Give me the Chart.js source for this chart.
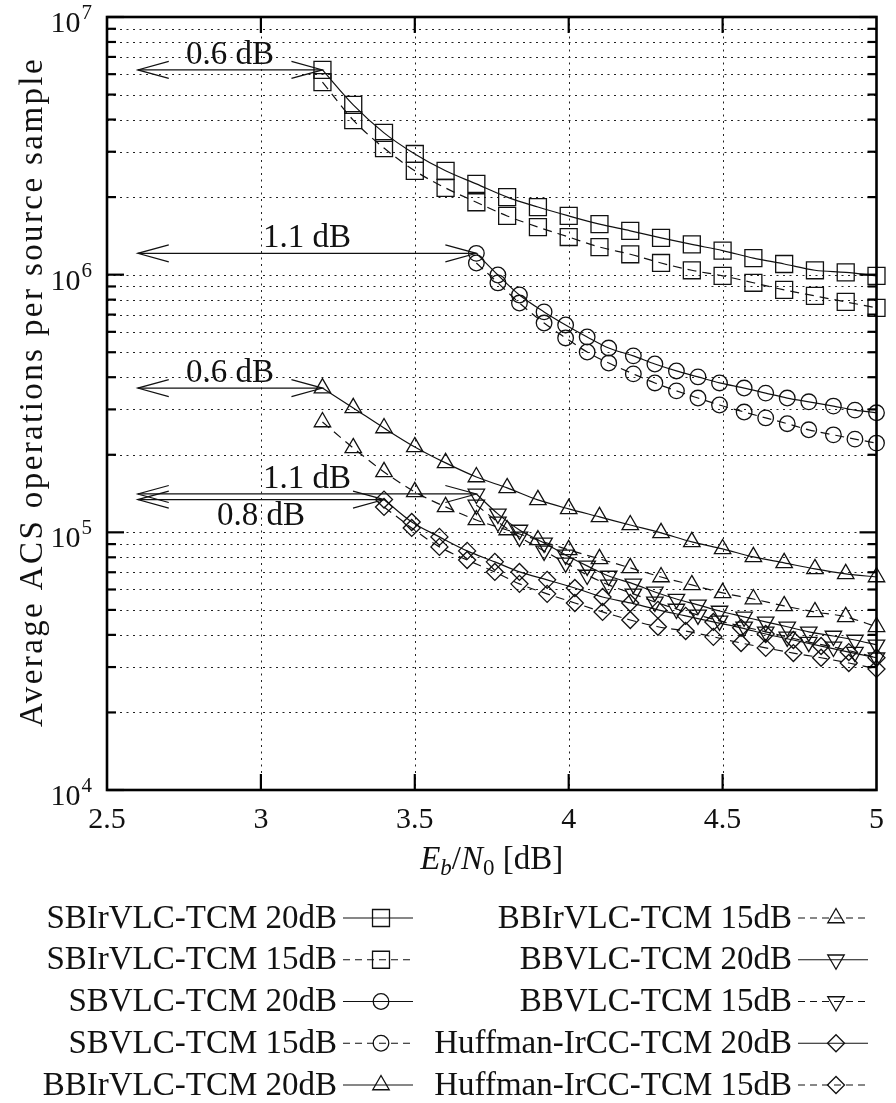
<!DOCTYPE html>
<html lang="en">
<head>
    <meta charset="UTF-8">
    <title>Average ACS operations per source sample</title>
    <script src="https://cdn.jsdelivr.net/npm/chart.js"></script>
    <style>
        body {
            margin: 0;
            background: #fff;
        }
        #wrap {
            width: 896px;
            height: 1103px;
        }
    </style>
</head>
<body>
    <div id="wrap"><canvas id="acsChart" width="896" height="1103"></canvas></div>

    <script>
        // Eb/N0 sample points [dB]
        const ebnoTenth = [3.2, 3.3, 3.4, 3.5, 3.6, 3.7, 3.8, 3.9, 4.0, 4.1, 4.2, 4.3, 4.4, 4.5, 4.6, 4.7, 4.8, 4.9, 5.0];
        const ebnoVlc = [3.70, 3.77, 3.84, 3.92, 3.99, 4.06, 4.13, 4.21, 4.28, 4.35, 4.42, 4.49, 4.57, 4.64, 4.71, 4.78, 4.86, 4.93, 5.00];
        const ebnoHuff = [3.40, 3.49, 3.58, 3.67, 3.76, 3.84, 3.93, 4.02, 4.11, 4.20, 4.29, 4.38, 4.47, 4.56, 4.64, 4.73, 4.82, 4.91, 5.00];

        // average ACS operations per source sample
        const sbIrvlc20 = [6.23e6, 4.56e6, 3.55e6, 2.94e6, 2.53e6, 2.25e6, 2.00e6, 1.83e6, 1.69e6, 1.57e6, 1.48e6, 1.39e6, 1.31e6, 1.24e6, 1.16e6, 1.10e6, 1.04e6, 1.02e6, 0.99e6];
        const sbIrvlc15 = [5.59e6, 3.98e6, 3.10e6, 2.53e6, 2.17e6, 1.91e6, 1.69e6, 1.53e6, 1.40e6, 1.28e6, 1.20e6, 1.11e6, 1.04e6, 0.99e6, 0.93e6, 0.873e6, 0.827e6, 0.784e6, 0.743e6];
        const sbVlc20 = [1.21e6, 0.997e6, 0.834e6, 0.717e6, 0.638e6, 0.573e6, 0.519e6, 0.484e6, 0.450e6, 0.423e6, 0.401e6, 0.380e6, 0.363e6, 0.347e6, 0.332e6, 0.321e6, 0.309e6, 0.298e6, 0.291e6];
        const sbVlc15 = [1.11e6, 0.929e6, 0.776e6, 0.649e6, 0.568e6, 0.501e6, 0.454e6, 0.412e6, 0.380e6, 0.354e6, 0.332e6, 0.312e6, 0.293e6, 0.278e6, 0.264e6, 0.250e6, 0.239e6, 0.230e6, 0.222e6];
        const bbIrvlc20 = [3.63e5, 3.04e5, 2.54e5, 2.145e5, 1.86e5, 1.64e5, 1.487e5, 1.336e5, 1.233e5, 1.148e5, 1.068e5, 0.995e5, 0.918e5, 0.862e5, 0.803e5, 0.761e5, 0.721e5, 0.690e5, 0.671e5];
        const bbIrvlc15 = [2.68e5, 2.126e5, 1.716e5, 1.435e5, 1.255e5, 1.117e5, 1.021e5, 0.934e5, 0.855e5, 0.789e5, 0.728e5, 0.671e5, 0.625e5, 0.582e5, 0.551e5, 0.518e5, 0.491e5, 0.470e5, 0.430e5];
        const bbVlc20 = [1.409e5, 1.179e5, 1.021e5, 0.910e5, 0.817e5, 0.741e5, 0.677e5, 0.631e5, 0.587e5, 0.551e5, 0.523e5, 0.495e5, 0.470e5, 0.449e5, 0.430e5, 0.411e5, 0.396e5, 0.382e5, 0.366e5];
        const bbVlc15 = [1.277e5, 1.097e5, 0.960e5, 0.847e5, 0.761e5, 0.683e5, 0.625e5, 0.577e5, 0.537e5, 0.504e5, 0.478e5, 0.453e5, 0.430e5, 0.411e5, 0.393e5, 0.375e5, 0.359e5, 0.343e5, 0.326e5];
        const huff20 = [1.34e5, 1.097e5, 0.960e5, 0.847e5, 0.768e5, 0.702e5, 0.654e5, 0.608e5, 0.561e5, 0.532e5, 0.500e5, 0.474e5, 0.449e5, 0.426e5, 0.403e5, 0.382e5, 0.362e5, 0.343e5, 0.326e5];
        const huff15 = [1.255e5, 1.040e5, 0.878e5, 0.781e5, 0.702e5, 0.631e5, 0.577e5, 0.532e5, 0.491e5, 0.457e5, 0.430e5, 0.414e5, 0.393e5, 0.372e5, 0.356e5, 0.340e5, 0.326e5, 0.311e5, 0.295e5];

        const seriesLabels = [
            'SBIrVLC-TCM 20dB', 'SBIrVLC-TCM 15dB',
            'SBVLC-TCM 20dB', 'SBVLC-TCM 15dB',
            'BBIrVLC-TCM 20dB', 'BBIrVLC-TCM 15dB',
            'BBVLC-TCM 20dB', 'BBVLC-TCM 15dB',
            'Huffman-IrCC-TCM 20dB', 'Huffman-IrCC-TCM 15dB'
        ];
        const seriesX = [ebnoTenth, ebnoTenth, ebnoVlc, ebnoVlc, ebnoTenth, ebnoTenth, ebnoVlc, ebnoVlc, ebnoHuff, ebnoHuff];
        const seriesY = [sbIrvlc20, sbIrvlc15, sbVlc20, sbVlc15, bbIrvlc20, bbIrvlc15, bbVlc20, bbVlc15, huff20, huff15];

        // axis ticks
        const xTicks = [2.5, 3, 3.5, 4, 4.5, 5];
        const xGrid = [3, 3.5, 4, 4.5];
        const yDecades = [1e4, 1e5, 1e6, 1e7];
        const yMantissas = [2, 3, 4, 5, 6, 7, 8, 9];

        // SNR gap arrows: label, series whose first point is the arrow target
        const gapLabels = ['0.6 dB', '1.1 dB', '0.6 dB', '1.1 dB', '0.8 dB'];
        const gapSeries = [0, 2, 4, 6, 8];
        const gapLabelX = [2.9, 3.15, 2.9, 3.15, 3.0];
        const gapFromX = 2.6;

        const FONT = '"Liberation Serif", "Times New Roman", serif';
        const INK = '#111';

        // one marker shape per scheme, solid = 20dB, dashed = 15dB
        const markerShapes = [
            { pointStyle: 'rect', radius: 12, rotation: 0 },
            { pointStyle: 'circle', radius: 7.8, rotation: 0 },
            { pointStyle: 'triangle', radius: 9.5, rotation: 0 },
            { pointStyle: 'triangle', radius: 9.5, rotation: 180 },
            { pointStyle: 'rectRot', radius: 8.5, rotation: 0 }
        ];
        const dashPattern = [9, 6];

        const datasets = seriesLabels.map(function(label, i) {
            const m = markerShapes[i >> 1];
            return {
                label: label,
                data: seriesX[i].map(function(x, k) { return { x: x, y: seriesY[i][k] }; }),
                borderColor: INK,
                borderWidth: 1.2,
                borderDash: i % 2 ? dashPattern : [],
                pointStyle: m.pointStyle,
                pointRadius: m.radius,
                pointHoverRadius: m.radius,
                pointRotation: m.rotation,
                pointBorderColor: INK,
                pointBorderWidth: 1.3,
                pointBackgroundColor: 'rgba(0,0,0,0)',
                cubicInterpolationMode: 'monotone',
                fill: false,
                clip: false
            };
        });

        function seg(ctx, x1, y1, x2, y2) {
            ctx.beginPath();
            ctx.moveTo(x1, y1);
            ctx.lineTo(x2, y2);
            ctx.stroke();
        }

        function doubleArrow(ctx, x1, x2, y) {
            const hl = 31, hw = 8.5;
            seg(ctx, x1, y, x2, y);
            ctx.beginPath();
            ctx.moveTo(x1 + hl, y - hw); ctx.lineTo(x1, y); ctx.lineTo(x1 + hl, y + hw);
            ctx.moveTo(x2 - hl, y - hw); ctx.lineTo(x2, y); ctx.lineTo(x2 - hl, y + hw);
            ctx.stroke();
        }

        const plotDecor = {
            id: 'plotDecor',
            beforeDatasetsDraw(chart) {
                const { ctx, chartArea: a, scales: { x, y } } = chart;
                ctx.save();
                ctx.strokeStyle = '#222';
                ctx.lineWidth = 1;
                ctx.setLineDash([2, 4.5]);
                xGrid.forEach(function(v) {
                    const px = Math.round(x.getPixelForValue(v)) + 0.5;
                    seg(ctx, px, a.top, px, a.bottom);
                });
                yDecades.forEach(function(d, i) {
                    const vals = (i > 0 && i < yDecades.length - 1) ? [d] : [];
                    if (i < yDecades.length - 1) yMantissas.forEach(function(m) { vals.push(d * m); });
                    vals.forEach(function(v) {
                        const py = Math.round(y.getPixelForValue(v)) + 0.5;
                        seg(ctx, a.left, py, a.right, py);
                    });
                });
                ctx.restore();
            },
            afterDatasetsDraw(chart) {
                const { ctx, chartArea: a, scales: { x, y } } = chart;
                ctx.save();
                ctx.strokeStyle = '#000';

                // inward ticks on all four sides
                ctx.lineWidth = 2.2;
                xGrid.forEach(function(v) {
                    const px = x.getPixelForValue(v);
                    seg(ctx, px, a.bottom, px, a.bottom - 16);
                    seg(ctx, px, a.top, px, a.top + 16);
                });
                yDecades.forEach(function(d, i) {
                    const py = y.getPixelForValue(d);
                    seg(ctx, a.left, py, a.left + 17, py);
                    seg(ctx, a.right, py, a.right - 17, py);
                    if (i === yDecades.length - 1) return;
                    yMantissas.forEach(function(m) {
                        const pm = y.getPixelForValue(d * m);
                        seg(ctx, a.left, pm, a.left + 9, pm);
                        seg(ctx, a.right, pm, a.right - 9, pm);
                    });
                });

                // frame
                ctx.lineWidth = 2.6;
                ctx.strokeRect(a.left, a.top, a.right - a.left, a.bottom - a.top);

                // gap arrows
                ctx.strokeStyle = INK;
                ctx.lineWidth = 1.2;
                ctx.fillStyle = INK;
                ctx.font = '33px ' + FONT;
                ctx.textAlign = 'center';
                ctx.textBaseline = 'middle';
                gapLabels.forEach(function(text, i) {
                    const s = gapSeries[i];
                    const py = y.getPixelForValue(seriesY[s][0]);
                    doubleArrow(ctx, x.getPixelForValue(gapFromX), x.getPixelForValue(seriesX[s][0]), py);
                    const dy = i === gapLabels.length - 1 ? 17 : -15;
                    ctx.fillText(text, x.getPixelForValue(gapLabelX[i]), py + dy);
                });
                ctx.restore();
            },
            afterDraw(chart) {
                const { ctx, chartArea: a, scales: { y } } = chart;
                ctx.save();
                ctx.fillStyle = INK;

                // y tick labels 10^k
                ctx.textBaseline = 'alphabetic';
                ctx.textAlign = 'left';
                yDecades.forEach(function(d) {
                    const py = y.getPixelForValue(d);
                    const exp = String(Math.round(Math.log10(d)));
                    ctx.font = '21px ' + FONT;
                    const we = ctx.measureText(exp).width;
                    ctx.font = '30px ' + FONT;
                    const wb = ctx.measureText('10').width;
                    const right = 92;
                    ctx.fillText('10', right - we - wb - 1, py + 15);
                    ctx.font = '21px ' + FONT;
                    ctx.fillText(exp, right - we, py + 2);
                });

                // y axis title
                ctx.save();
                ctx.translate(33, 392);
                ctx.rotate(-Math.PI / 2);
                ctx.font = '33px ' + FONT;
                ctx.letterSpacing = '2.4px';
                ctx.textAlign = 'center';
                ctx.textBaseline = 'middle';
                ctx.fillText('Average ACS operations per source sample', 0, 0);
                ctx.restore();

                // x axis title: E_b/N_0 [dB]
                const parts = [
                    { t: 'E', f: 'italic 33px ' + FONT, dy: 0 },
                    { t: 'b', f: 'italic 23px ' + FONT, dy: 6 },
                    { t: '/', f: '33px ' + FONT, dy: 0 },
                    { t: 'N', f: 'italic 33px ' + FONT, dy: 0 },
                    { t: '0', f: '23px ' + FONT, dy: 6 },
                    { t: ' [dB]', f: '33px ' + FONT, dy: 0 }
                ];
                let total = 0;
                parts.forEach(function(p) { ctx.font = p.f; p.w = ctx.measureText(p.t).width; total += p.w; });
                let cx = (a.left + a.right) / 2 - total / 2;
                ctx.textAlign = 'left';
                parts.forEach(function(p) {
                    ctx.font = p.f;
                    ctx.fillText(p.t, cx, 869 + p.dy);
                    cx += p.w;
                });

                // legend, two columns, text right-aligned before the sample
                const colText = [337, 792];
                const colLine = [[343, 413], [798, 868]];
                seriesLabels.forEach(function(label, i) {
                    const col = i < 5 ? 0 : 1;
                    const row = i % 5;
                    const ly = 918 + row * 41.75;
                    ctx.font = '33px ' + FONT;
                    ctx.textAlign = 'right';
                    ctx.textBaseline = 'middle';
                    ctx.fillStyle = INK;
                    ctx.fillText(label, colText[col], ly + 1);

                    const [x0, x1] = colLine[col];
                    ctx.strokeStyle = INK;
                    ctx.lineWidth = 1.2;
                    ctx.setLineDash(i % 2 ? [7, 5] : []);
                    seg(ctx, x0, ly, x1, ly);
                    ctx.setLineDash([]);
                    const m = markerShapes[i >> 1];
                    ctx.lineWidth = 1.3;
                    ctx.fillStyle = 'rgba(0,0,0,0)';
                    Chart.helpers.drawPoint(ctx, {
                        pointStyle: m.pointStyle,
                        radius: m.radius,
                        rotation: m.rotation,
                        borderWidth: 1.3
                    }, (x0 + x1) / 2 + 3, ly);
                });
                ctx.restore();
            }
        };

        new Chart(document.getElementById('acsChart'), {
            type: 'line',
            data: { datasets: datasets },
            options: {
                responsive: false,
                animation: false,
                devicePixelRatio: 1,
                layout: { padding: { top: 17, right: 14, left: 0, bottom: 0 } },
                plugins: {
                    legend: { display: false },
                    tooltip: { enabled: false }
                },
                scales: {
                    x: {
                        type: 'linear',
                        min: 2.5,
                        max: 5,
                        afterBuildTicks: function(scale) {
                            scale.ticks = xTicks.map(function(v) { return { value: v }; });
                        },
                        afterFit: function(scale) { scale.height = 313; },
                        grid: { display: false, drawTicks: false },
                        border: { display: false },
                        ticks: {
                            padding: 12,
                            color: INK,
                            font: { family: FONT, size: 30 },
                            maxRotation: 0,
                            callback: function(v) { return String(v); }
                        }
                    },
                    y: {
                        type: 'logarithmic',
                        min: 1e4,
                        max: 1e7,
                        afterFit: function(scale) { scale.width = 107; },
                        grid: { display: false, drawTicks: false },
                        border: { display: false },
                        ticks: { display: false }
                    }
                }
            },
            plugins: [plotDecor]
        });
    </script>
</body>
</html>
